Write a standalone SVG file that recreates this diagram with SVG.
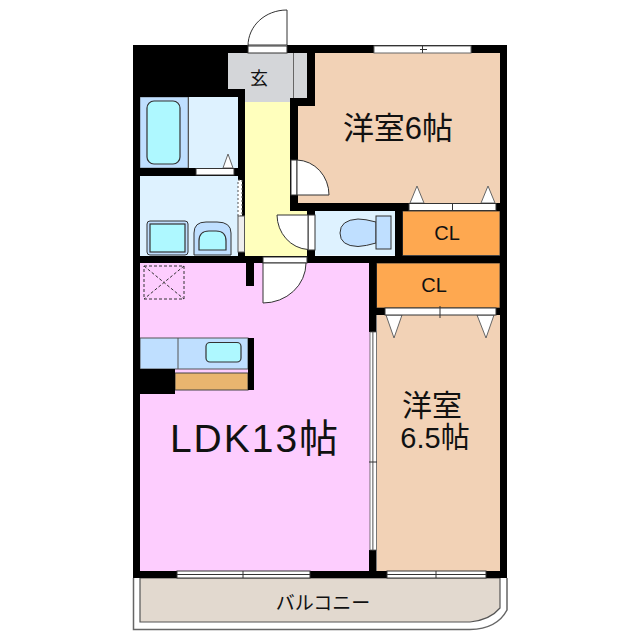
<svg xmlns="http://www.w3.org/2000/svg" width="640" height="640" viewBox="0 0 640 640">
<style>
.l{stroke:#333;stroke-width:1}
.w{fill:#000}
.d{fill:#fff;stroke:#333;stroke-width:1}
.g{fill:#fff;stroke:#666;stroke-width:1}
text{font-family:"Liberation Sans","Noto Sans CJK JP",sans-serif;fill:#111;text-anchor:middle}
</style>
<rect width="640" height="640" fill="#fff"/>
<g id="balcony">
<path d="M133.500 578V629.500H470Q497 629 507 610V578" fill="#fff" stroke="#666" stroke-width="1.500"/>
<path d="M140 578V622H470Q490 620 500 608V578Z" fill="#e2d9cf" stroke="#555" stroke-width="1.200"/>
<text x="323" y="610" font-size="19">バルコニー</text>
</g>
<g id="room-ldk">
<rect x="140" y="263" width="230" height="308" fill="#fdcdfe"/>
<text x="255" y="452" font-size="39" letter-spacing="2">LDK13帖</text>
<g fill="none" stroke="#333" stroke-width="1" stroke-dasharray="3 2"><rect x="144" y="266" width="40" height="33"/><path d="M144 266L184 299M184 266L144 299"/></g>
</g>
<g id="kitchen">
<rect x="140" y="338" width="108" height="31" fill="#bfdfff" stroke="#555"/>
<path d="M178 338V369" stroke="#555" fill="none"/>
<rect x="206" y="342.500" width="35" height="19.500" rx="4" fill="#aef8ff" stroke="#333" stroke-width="1.200"/>
<rect x="175" y="373" width="73" height="17" fill="#e9b56f" stroke="#444"/>
<rect x="248" y="338" width="6" height="52" class="w"/>
<rect x="133" y="369" width="42" height="25" class="w"/>
</g>
<g id="room-6">
<path d="M315 53H500V203H298V106H315Z" fill="#f2d2b6"/>
<text x="398" y="139" font-size="31">洋室6帖</text>
<path class="g" d="M410 203L417 186L424 203ZM481 203L488 186L495 203Z"/>
</g>
<g id="room-65">
<rect x="377" y="315" width="123" height="256" fill="#f2d2b6"/>
<text x="432" y="416" font-size="30">洋室</text>
<text x="435" y="448" font-size="29">6.5帖</text>
<path class="g" d="M386 315L394 338L402 315ZM477 315L486 338L494 315Z"/>
</g>
<g id="closet-1"><rect x="402.500" y="211" width="97.500" height="44.500" fill="#fea850" stroke="#444"/><text x="447" y="240" font-size="20">CL</text></g>
<g id="closet-2"><rect x="376.500" y="263" width="123.500" height="45" fill="#fea850" stroke="#444"/><text x="434" y="292" font-size="20">CL</text></g>
<g id="hall"><path d="M245 102H290V210H308V256H245Z" fill="#ffffbd"/></g>
<g id="entry">
<path d="M228 53H307V98H290V102H245V89H228Z" fill="#d4d6d9"/>
<path d="M293.500 53V98" stroke="#666" fill="none"/>
<text x="259" y="85" font-size="18">玄</text>
</g>
<g id="bath">
<rect x="140" y="97" width="48" height="71" fill="#bfdfff" stroke="#555" stroke-width=".6"/>
<rect x="188" y="97" width="50" height="71" fill="#def2ff"/>
<path d="M188.500 97V168" stroke="#555"/>
<rect x="147" y="101" width="33" height="63" rx="7" fill="#aef8ff" stroke="#333" stroke-width="1.200"/>
<path class="g" d="M223 168L228 154L233 168Z"/>
</g>
<g id="washroom">
<rect x="140" y="176" width="98" height="80" fill="#def2ff"/>
<rect x="147" y="221" width="41" height="34" rx="3" fill="#bfdfff" stroke="#333"/>
<rect x="150" y="224" width="35" height="28" fill="#aef8ff" stroke="#333" stroke-width="1.200"/>
<path d="M194 255V233Q194 222 206 222H217Q231 222 231 233V255Z" fill="#bfdfff" stroke="#333"/>
<path d="M199 250V241Q199 231 209 231H216Q226 231 226 241V250Z" fill="#aef8ff" stroke="#333" stroke-width="1.200"/>
</g>
<g id="toilet">
<rect x="315" y="211" width="80" height="44.500" fill="#def2ff"/>
<path d="M376 222Q365 219 358 219Q340 220 340 233Q340 246 358 246.500Q366 246 376 243Z" fill="#bfdfff" stroke="#333"/>
<rect x="376" y="216" width="15" height="33" fill="#bfdfff" stroke="#333"/>
</g>
<g id="walls">
<rect x="133" y="45" width="115" height="8" class="w"/>
<rect x="133" y="45" width="95" height="52" class="w"/>
<rect x="228" y="89" width="17" height="8" class="w"/>
<rect x="133" y="45" width="7" height="533" class="w"/>
<rect x="287" y="45" width="220" height="8" class="w"/>
<rect x="500" y="45" width="7" height="533" class="w"/>
<rect x="133" y="571" width="374" height="7" class="w"/>
<rect x="238" y="89" width="7" height="174" class="w"/>
<rect x="140" y="168" width="98" height="8" class="w"/>
<rect x="307" y="45" width="8" height="61" class="w"/>
<rect x="290" y="98" width="25" height="8" class="w"/>
<rect x="290" y="98" width="8" height="112" class="w"/>
<rect x="290" y="203" width="210" height="8" class="w"/>
<rect x="307" y="203" width="8" height="60" class="w"/>
<rect x="395" y="211" width="7.500" height="45" class="w"/>
<rect x="133" y="256" width="374" height="7" class="w"/>
<rect x="369" y="256" width="7.500" height="76" class="w"/>
<rect x="369" y="550" width="7.500" height="25" class="w"/>
<rect x="369" y="308" width="131" height="7" class="w"/>
<rect x="246" y="263" width="8" height="23" class="w"/>
</g>
<g id="doors">
<path d="M248 45V46C248 26 265 10 287 10V45Z" fill="#fff" stroke="#333" stroke-width="1"/>
<rect x="248" y="46" width="39" height="7" class="d"/>
<rect x="291" y="160" width="6" height="35" class="d"/>
<path d="M297 160A33 35 0 0 1 329 195H297Z" class="d"/>
<rect x="308" y="215" width="7" height="35" class="d"/>
<path d="M308 215H277A33 35 0 0 0 308 249.500Z" class="d"/>
<rect x="263" y="257" width="44" height="6" class="d"/>
<path d="M263 263H306A43 40 0 0 1 263 303Z" class="d"/>
<rect x="196" y="168.500" width="38" height="6.500" class="d"/>
<rect x="238" y="180" width="4" height="36" fill="#fff" stroke="#555" stroke-dasharray="2 2"/>
<rect x="238" y="216" width="6.500" height="36" fill="#eee" stroke="#555"/>
<rect x="409" y="203.500" width="87" height="7" class="d"/>
<path d="M452.500 203V211" class="l"/>
<rect x="385" y="308" width="111" height="7" class="d"/>
<path d="M440 306V318" class="l"/>
<rect x="370" y="332" width="3" height="218" fill="#fff" stroke="#555" stroke-width=".8"/>
<rect x="373" y="332" width="3.500" height="218" fill="#fff" stroke="#555" stroke-width=".8"/>
<path d="M369 462H377" class="l"/>
</g>
<g id="windows">
<rect x="374" y="46" width="97" height="7" class="g"/>
<path d="M420 49.500H427M422.500 46V53" class="l"/>
<rect x="177" y="571" width="133" height="7" class="d"/>
<path d="M177 574.500H310M243 571V578" class="l"/>
<rect x="387" y="571" width="99" height="7" class="d"/>
<path d="M387 574.500H486M436 571V578" class="l"/>
</g>
</svg>
